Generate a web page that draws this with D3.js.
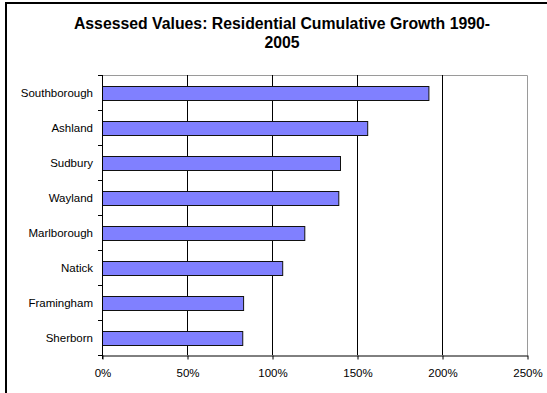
<!DOCTYPE html>
<html>
<head>
<meta charset="utf-8">
<script src="https://cdn.jsdelivr.net/npm/d3@7"></script>
<style>
  html, body { margin: 0; padding: 0; background: #fff; }
  svg { display: block; font-family: "Liberation Sans", Arial, sans-serif; }
</style>
</head>
<body>
<svg id="chart" width="547" height="393"></svg>
<script>
// Towns, top to bottom
const towns = ["Southborough", "Ashland", "Sudbury", "Wayland", "Marlborough", "Natick", "Framingham", "Sherborn"];
// Cumulative growth of residential assessed values, 1990-2005 (percent)
const growth = [192, 156, 140, 139, 119, 106, 83, 82.5];
// Horizontal axis ticks (percent)
const xTicks = [0, 50, 100, 150, 200, 250];
const titleLines = ["Assessed Values: Residential Cumulative Growth 1990-", "2005"];

const svg = d3.select("#chart");
const plot = { left: 102, right: 527, top: 75, bottom: 355 };

// Outer chart frame (runs off the right and bottom edges)
svg.append("rect")
  .attr("x", 6).attr("y", 3).attr("width", 600).attr("height", 450)
  .attr("fill", "#fff").attr("stroke", "#000").attr("stroke-width", 2);

// Title
svg.append("g").selectAll("text").data(titleLines).join("text")
  .attr("x", 282).attr("y", (d, i) => 29 + i * 18.7)
  .attr("text-anchor", "middle")
  .attr("font-weight", "bold").attr("font-size", 15.8)
  .attr("fill", "#000")
  .text(d => d);

const x = d3.scaleLinear().domain([0, 250]).range([plot.left, plot.right]);
const y = d3.scaleBand().domain(towns).range([plot.top, plot.bottom]).paddingInner(0.6).paddingOuter(0.3);

// Plot area border (top and right)
svg.append("path")
  .attr("d", `M${plot.left},${plot.top + 0.5}H${plot.right + 0.5}V${plot.bottom}`)
  .attr("fill", "none").attr("stroke", "#9a9a9a").attr("stroke-width", 1);

// Vertical gridlines
svg.append("g").selectAll("line").data(xTicks.filter(t => t > 0 && t < 250)).join("line")
  .attr("x1", d => Math.round(x(d)) + 0.5).attr("x2", d => Math.round(x(d)) + 0.5)
  .attr("y1", plot.top).attr("y2", plot.bottom)
  .attr("stroke", "#000").attr("stroke-width", 1);

// Bars
svg.append("g").selectAll("rect").data(towns).join("rect")
  .attr("x", x(0) + 0.5)
  .attr("y", d => Math.round(y(d)) + 0.5)
  .attr("width", (d, i) => x(growth[i]) - x(0))
  .attr("height", Math.round(y.bandwidth()))
  .attr("fill", "#8080ff")
  .attr("stroke", "#111").attr("stroke-width", 1);

// Bottom axis
const xAxis = d3.axisBottom(x).tickValues(xTicks).tickFormat(d => d + "%").tickSizeInner(4).tickSizeOuter(0).tickPadding(9);
const gx = svg.append("g").attr("transform", `translate(0.5,${plot.bottom + 0.5})`).call(xAxis);
gx.select(".domain").attr("stroke", "#000");
gx.selectAll(".tick line").attr("stroke", "#000");
gx.selectAll(".tick text").attr("font-size", 11.5).attr("fill", "#000")
  .attr("font-family", "'Liberation Sans', Arial, sans-serif");

// Left axis: ticks sit between categories
const bandEdges = d3.range(towns.length + 1).map(i => plot.top + i * (plot.bottom - plot.top) / towns.length);
const gy = svg.append("g");
gy.append("line")
  .attr("x1", plot.left + 0.5).attr("x2", plot.left + 0.5)
  .attr("y1", plot.top).attr("y2", plot.bottom + 4)
  .attr("stroke", "#000");
gy.selectAll("line.tk").data(bandEdges).join("line").attr("class", "tk")
  .attr("x1", plot.left - 4).attr("x2", plot.left + 0.5)
  .attr("y1", d => Math.round(d) + 0.5).attr("y2", d => Math.round(d) + 0.5)
  .attr("stroke", "#000");
gy.selectAll("text").data(towns).join("text")
  .attr("x", 93)
  .attr("y", d => y(d) + y.bandwidth() / 2)
  .attr("dy", "0.35em")
  .attr("text-anchor", "end")
  .attr("font-size", 11.5).attr("fill", "#000")
  .text(d => d);
</script>
</body>
</html>
